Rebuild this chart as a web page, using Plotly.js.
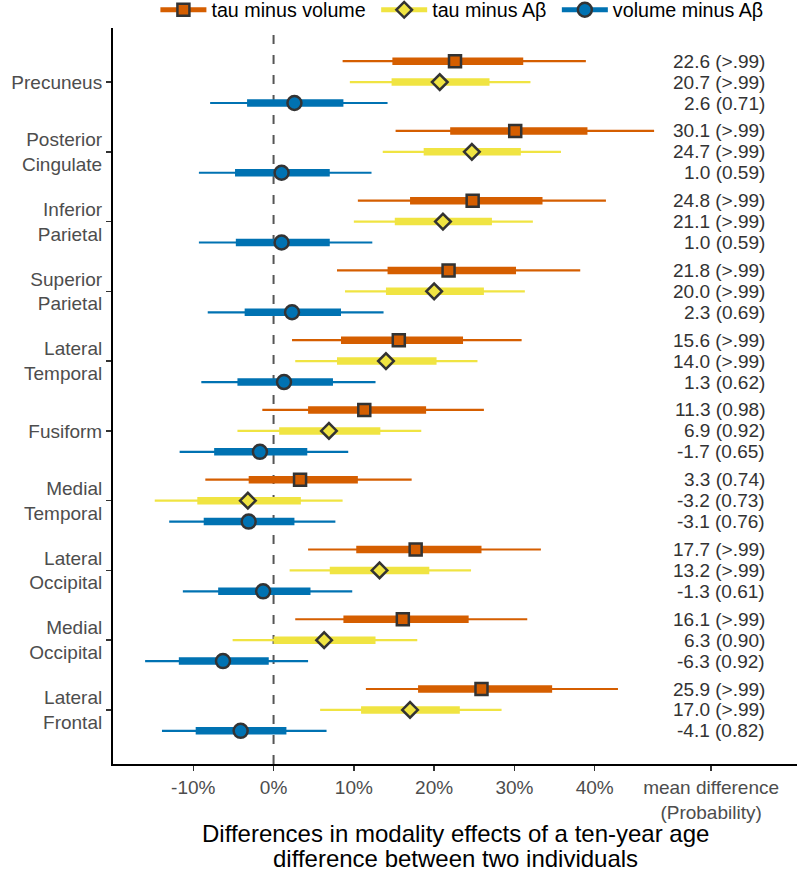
<!DOCTYPE html>
<html>
<head>
<meta charset="utf-8">
<script src="https://cdn.plot.ly/plotly-3.0.1.min.js"></script>
<style>html,body{margin:0;padding:0;background:#fff;}#chart{width:800px;height:872px;}</style>
</head>
<body>
<div id="chart"></div>
<script>
// ---- data (top to bottom) ----
const regions = ["Precuneus", "Posterior<br>Cingulate", "Inferior<br>Parietal", "Superior<br>Parietal",
  "Lateral<br>Temporal", "Fusiform", "Medial<br>Temporal", "Lateral<br>Occipital",
  "Medial<br>Occipital", "Lateral<br>Frontal"];

const seriesNames = ["tau minus volume", "tau minus A\u03b2", "volume minus A\u03b2"];

// tau minus volume
const tvMean  = [22.6, 30.1, 24.8, 21.8, 15.6, 11.3, 3.3, 17.7, 16.1, 25.9];
const tvProb  = [">.99", ">.99", ">.99", ">.99", ">.99", "0.98", "0.74", ">.99", ">.99", ">.99"];
const tvLo95  = [8.6, 15.2, 10.5, 7.9, 2.3, -1.4, -8.5, 4.3, 2.7, 11.5];
const tvHi95  = [38.9, 47.4, 41.4, 38.2, 30.9, 26.2, 17.2, 33.3, 31.6, 42.9];
const tvLo50  = [14.8, 22.0, 17.0, 14.2, 8.4, 4.3, -3.1, 10.3, 8.7, 18.0];
const tvHi50  = [31.1, 39.1, 33.5, 30.2, 23.6, 19.0, 10.5, 25.9, 24.3, 34.7];

// tau minus Abeta
const taMean  = [20.7, 24.7, 21.1, 20.0, 14.0, 6.9, -3.2, 13.2, 6.3, 17.0];
const taProb  = [">.99", ">.99", ">.99", ">.99", ">.99", "0.92", "0.73", ">.99", "0.90", ">.99"];
const taLo95  = [9.5, 13.6, 10.0, 8.9, 2.7, -4.5, -14.8, 2.0, -5.1, 5.8];
const taHi95  = [32.0, 35.8, 32.3, 31.3, 25.4, 18.4, 8.6, 24.6, 17.9, 28.4];
const taLo50  = [14.7, 18.7, 15.1, 14.0, 7.9, 0.7, -9.5, 7.0, 0.0, 10.9];
const taHi50  = [26.9, 30.8, 27.2, 26.2, 20.3, 13.3, 3.4, 19.4, 12.7, 23.2];

// volume minus Abeta
const vaMean  = [2.6, 1.0, 1.0, 2.3, 1.3, -1.7, -3.1, -1.3, -6.3, -4.1];
const vaProb  = ["0.71", "0.59", "0.59", "0.69", "0.62", "0.65", "0.76", "0.61", "0.92", "0.82"];
const vaLo95  = [-7.9, -9.3, -9.3, -8.2, -9.0, -11.7, -13.0, -11.3, -16.0, -13.9];
const vaHi95  = [14.2, 12.2, 12.3, 13.7, 12.7, 9.3, 7.7, 9.8, 4.3, 6.6];
const vaLo50  = [-3.3, -4.8, -4.7, -3.6, -4.5, -7.4, -8.7, -6.9, -11.8, -9.7];
const vaHi50  = [8.7, 7.0, 7.0, 8.4, 7.4, 4.2, 2.6, 4.6, -0.6, 1.6];

const xTickVals = [-10, 0, 10, 20, 30, 40, 54.5];
const xTickText = ["-10%", "0%", "10%", "20%", "30%", "40%", "mean difference<br>(Probability)"];

// ---- build ----
const colors = ["#D55E00", "#F0E442", "#0072B2"];
const symbols = ["square", "diamond", "circle"];
const msizes = [12, 12, 14];
const dodge = [0.3, 0, -0.3];
const legendPad = ["\u00a0", "\u00a0", ""];
const series = [
  {mean: tvMean, prob: tvProb, lo95: tvLo95, hi95: tvHi95, lo50: tvLo50, hi50: tvHi50},
  {mean: taMean, prob: taProb, lo95: taLo95, hi95: taHi95, lo50: taLo50, hi50: taHi50},
  {mean: vaMean, prob: vaProb, lo95: vaLo95, hi95: vaHi95, lo50: vaLo50, hi50: vaHi50}
];
const n = regions.length;
const catPos = regions.map((_, i) => n - i);

const traces = [];
const annotations = [];
const FONT = "Liberation Sans, Arial, Helvetica, sans-serif";

series.forEach((s, k) => {
  const thinX = [], thinY = [], thickX = [], thickY = [];
  for (let i = 0; i < n; i++) {
    const y = catPos[i] + dodge[k];
    thinX.push(s.lo95[i], s.hi95[i], null); thinY.push(y, y, null);
    thickX.push(s.lo50[i], s.hi50[i], null); thickY.push(y, y, null);
    annotations.push({
      x: 61.5, y: y, xref: "x", yref: "y", xanchor: "right", yanchor: "middle",
      text: s.mean[i].toFixed(1) + " (" + s.prob[i] + ")", showarrow: false,
      font: {family: FONT, size: 19, color: "#333333"}
    });
  }
  traces.push({x: thinX, y: thinY, mode: "lines", line: {color: colors[k], width: 2.2},
    showlegend: false, hoverinfo: "skip"});
  traces.push({x: thickX, y: thickY, mode: "lines", line: {color: colors[k], width: 7.5},
    showlegend: false, hoverinfo: "skip"});
});
series.forEach((s, k) => {
  const mX = [], mY = [];
  for (let i = 0; i < n; i++) { mX.push(s.mean[i], null); mY.push(catPos[i] + dodge[k], null); }
  traces.push({x: mX, y: mY, mode: "lines+markers", name: seriesNames[k] + legendPad[k],
    line: {color: colors[k], width: 5},
    marker: {symbol: symbols[k], size: msizes[k], color: colors[k], line: {color: "#333333", width: 2.5}},
    connectgaps: false});
});

annotations.push({xref: "paper", yref: "paper", x: 0.5, y: 0, yshift: -69, xanchor: "center", yanchor: "middle",
  text: "Differences in modality effects of a ten-year age", showarrow: false,
  font: {family: FONT, size: 24, color: "#000000"}});
annotations.push({xref: "paper", yref: "paper", x: 0.5, y: 0, yshift: -94, xanchor: "center", yanchor: "middle",
  text: "difference between two individuals", showarrow: false,
  font: {family: FONT, size: 24, color: "#000000"}});

// plot area: x 113..797, y 28..764
const layout = {
  width: 800, height: 872,
  margin: {l: 113, r: 3, t: 28, b: 108, pad: 0, autoexpand: false},
  paper_bgcolor: "#ffffff", plot_bgcolor: "#ffffff",
  font: {family: FONT, size: 19, color: "#4D4D4D"},
  xaxis: {
    range: [-20, 65.2], tickvals: xTickVals, ticktext: xTickText, automargin: false,
    showgrid: false, zeroline: false, showline: true, linecolor: "#000000", linewidth: 2,
    ticks: "outside", ticklen: 5, tickwidth: 1.5, tickcolor: "#333333",
    tickfont: {family: FONT, size: 19, color: "#4D4D4D"}
  },
  yaxis: {
    range: [0.225, 10.775], tickvals: catPos, ticktext: regions, automargin: false,
    showgrid: false, zeroline: false, showline: true, linecolor: "#000000", linewidth: 2,
    ticks: "outside", ticklen: 5, tickwidth: 1.5, tickcolor: "#333333",
    tickfont: {family: FONT, size: 19, color: "#4D4D4D"}
  },
  showlegend: true,
  legend: {orientation: "h", x: 0.062, y: 1.0245, xanchor: "left", yanchor: "middle",
    font: {family: FONT, size: 19.7, color: "#000000"}, itemwidth: 46, bgcolor: "rgba(0,0,0,0)",
    traceorder: "normal"},
  shapes: [{type: "line", xref: "x", yref: "paper", x0: 0, x1: 0, y0: 0, y1: 1, layer: "below",
    line: {color: "#555555", width: 2, dash: "9px,11px"}}],
  annotations: annotations
};

Plotly.newPlot("chart", traces, layout, {displayModeBar: false, staticPlot: true});
</script>
</body>
</html>
